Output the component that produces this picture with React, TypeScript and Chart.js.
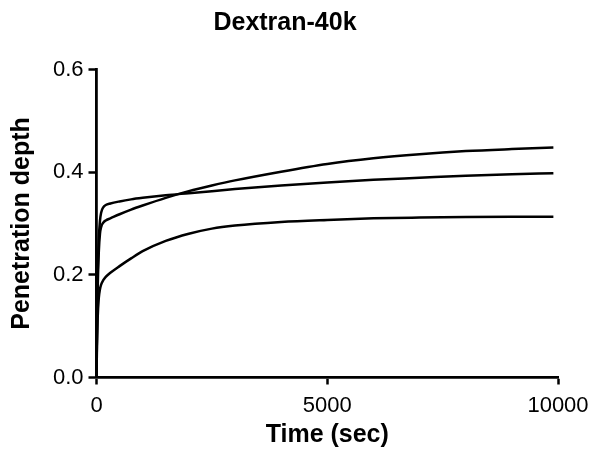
import React, { useEffect, useRef } from "react";
import { Chart, registerables } from "chart.js";

Chart.register(...registerables);

const chartTitle = "Dextran-40k";
const xTitle = "Time (sec)";
const yTitle = "Penetration depth";

const timeSec = [0, 10, 25, 50, 75, 100, 150, 200, 300, 500, 750, 1000, 1500, 2000, 2500, 3000, 4000, 5000, 6000, 7000, 8000, 9000, 9900];
const seriesA = [0, 0.08, 0.17, 0.245, 0.28, 0.293, 0.302, 0.306, 0.31, 0.318, 0.327, 0.335, 0.35, 0.363, 0.374, 0.384, 0.401, 0.416, 0.427, 0.435, 0.441, 0.445, 0.448];
const seriesB = [0, 0.1, 0.2, 0.27, 0.305, 0.321, 0.332, 0.336, 0.339, 0.343, 0.347, 0.35, 0.355, 0.359, 0.363, 0.367, 0.374, 0.38, 0.385, 0.389, 0.393, 0.396, 0.398];
const seriesC = [0, 0.06, 0.115, 0.155, 0.172, 0.181, 0.19, 0.196, 0.204, 0.217, 0.232, 0.246, 0.266, 0.28, 0.29, 0.296, 0.303, 0.307, 0.31, 0.3115, 0.3125, 0.313, 0.313];

const xMin = 0;
const xMax = 10000;
const xStep = 5000;
const yMin = 0;
const yMax = 0.6;
const yStep = 0.2;

const FONT = "'Liberation Sans', Arial, Helvetica, sans-serif";

export default function App() {
  const canvasRef = useRef<HTMLCanvasElement | null>(null);

  useEffect(() => {
    const canvas = canvasRef.current;
    if (!canvas) return;
    const mk = (vals: number[]) => timeSec.map((t, i) => ({ x: t, y: vals[i] }));
    const ds = (vals: number[]) => ({
      data: mk(vals),
      borderColor: "#000",
      borderWidth: 2.5,
      pointRadius: 0,
      fill: false,
      cubicInterpolationMode: "monotone" as const,
    });
    const chart = new Chart(canvas, {
      type: "line",
      data: { datasets: [ds(seriesA), ds(seriesB), ds(seriesC)] },
      options: {
        responsive: false,
        animation: false,
        layout: { padding: { left: 12, right: 42, top: 0, bottom: 0 } },
        plugins: {
          legend: { display: false },
          tooltip: { enabled: false },
          title: {
            display: true,
            text: chartTitle,
            color: "#000",
            font: { family: FONT, size: 25, weight: "bold", lineHeight: 1.2 },
            padding: { top: 8, bottom: 31.5 },
          },
        },
        scales: {
          x: {
            type: "linear",
            min: xMin,
            max: xMax,
            afterFit: (s: any) => {
              s.height = 82.5;
            },
            ticks: {
              stepSize: xStep,
              color: "#000",
              padding: 8,
              maxRotation: 0,
              font: { family: FONT, size: 22 },
              callback: (v: any) => String(v),
            },
            grid: {
              display: true,
              drawOnChartArea: false,
              drawTicks: true,
              tickLength: 7,
              tickWidth: 2.5,
              tickColor: "#000",
            },
            border: { display: true, color: "#000", width: 2.8 },
            title: {
              display: true,
              text: xTitle,
              color: "#000",
              font: { family: FONT, size: 25, weight: "bold", lineHeight: 1.2 },
              padding: { top: 0, bottom: 9.5 },
            },
          },
          y: {
            type: "linear",
            min: yMin,
            max: yMax,
            afterFit: (s: any) => {
              s.width = 84.5;
            },
            ticks: {
              stepSize: yStep,
              color: "#000",
              padding: 5,
              font: { family: FONT, size: 22 },
              callback: (v: any) => Number(v).toFixed(1),
            },
            grid: {
              display: true,
              drawOnChartArea: false,
              drawTicks: true,
              tickLength: 8,
              tickWidth: 2.5,
              tickColor: "#000",
            },
            border: { display: true, color: "#000", width: 2.8 },
            title: {
              display: true,
              text: yTitle,
              color: "#000",
              font: { family: FONT, size: 25, weight: "bold", lineHeight: "20px" },
              padding: { top: 0, bottom: 0 },
            },
          },
        },
      },
    });
    return () => chart.destroy();
  }, []);

  return (
    <div style={{ position: "fixed", left: 0, top: 0, width: 600, height: 460, background: "#fff" }}>
      <canvas ref={canvasRef} width={600} height={460} style={{ display: "block" }} />
    </div>
  );
}
